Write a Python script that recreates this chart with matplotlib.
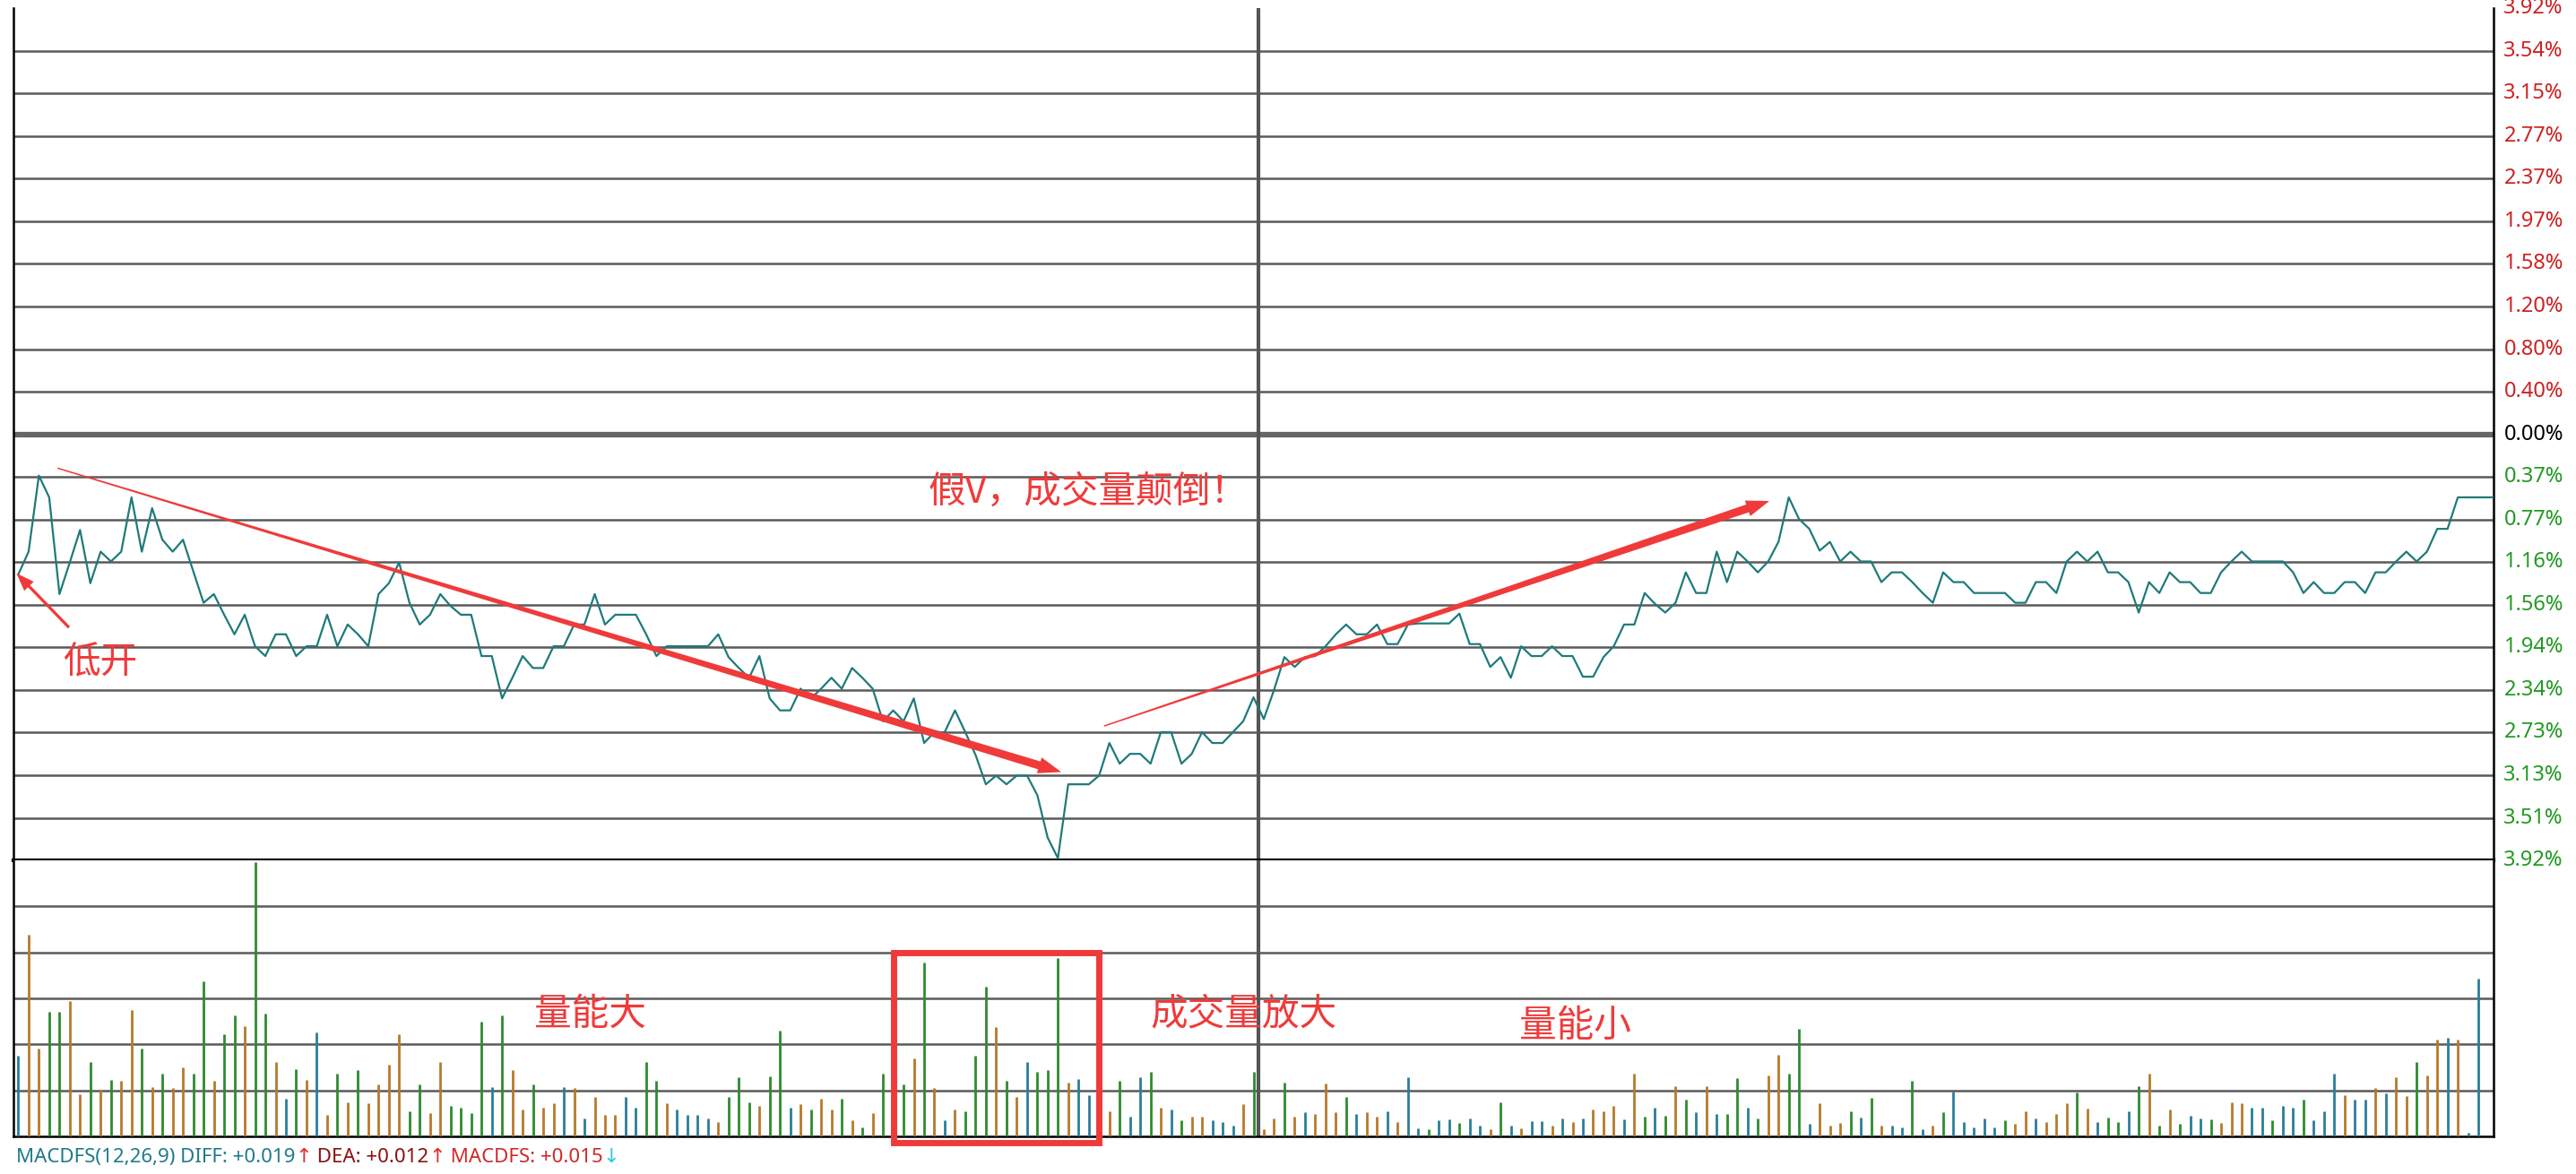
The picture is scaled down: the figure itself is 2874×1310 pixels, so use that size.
import numpy as np
import matplotlib
matplotlib.use("Agg")
import matplotlib.pyplot as plt
from matplotlib.patches import Polygon, Rectangle

plt.rcParams['font.family'] = ['Noto Sans CJK SC', 'DejaVu Sans']

# ---- data ----
price_am = [-1.29,-1.08,-0.38,-0.58,-1.47,-1.18,-0.88,-1.37,-1.08,-1.17,-1.08,-0.58,-1.08,-0.68,-0.97,-1.08,-0.97,-1.26,-1.55,-1.47,
            -1.66,-1.84,-1.66,-1.95,-2.04,-1.84,-1.84,-2.04,-1.95,-1.95,-1.66,-1.95,-1.75,-1.84,-1.95,-1.47,-1.37,-1.18,-1.55,-1.75,
            -1.66,-1.47,-1.58,-1.66,-1.66,-2.04,-2.04,-2.43,-2.24,-2.04,-2.15,-2.15,-1.95,-1.95,-1.75,-1.75,-1.47,-1.75,-1.66,-1.66,
            -1.66,-1.84,-2.04,-1.95,-1.95,-1.95,-1.95,-1.95,-1.84,-2.05,-2.15,-2.24,-2.04,-2.43,-2.54,-2.54,-2.34,-2.43,-2.34,-2.24,
            -2.34,-2.15,-2.24,-2.34,-2.64,-2.54,-2.64,-2.43,-2.84,-2.74,-2.74,-2.54,-2.74,-2.95,-3.22,-3.14,-3.22,-3.14,-3.14,-3.32,
            -3.71,-3.90,-3.22,-3.22,-3.22,-3.14,-2.84,-3.03,-2.94,-2.94,-3.03,-2.74,-2.74,-3.03,-2.94,-2.74,-2.84,-2.84,-2.74,-2.64]
price_pm = [-2.42,-2.62,-2.35,-2.05,-2.14,-2.05,-2.04,-1.95,-1.84,-1.75,-1.84,-1.84,-1.75,-1.93,-1.93,-1.75,-1.74,-1.74,-1.74,-1.74,
            -1.65,-1.93,-1.93,-2.14,-2.05,-2.24,-1.95,-2.04,-2.04,-1.95,-2.04,-2.04,-2.23,-2.23,-2.05,-1.95,-1.75,-1.75,-1.46,-1.56,
            -1.64,-1.55,-1.27,-1.46,-1.46,-1.08,-1.36,-1.08,-1.17,-1.27,-1.17,-0.99,-0.58,-0.78,-0.87,-1.07,-0.99,-1.17,-1.08,-1.17,
            -1.17,-1.36,-1.27,-1.27,-1.36,-1.46,-1.55,-1.27,-1.36,-1.36,-1.46,-1.46,-1.46,-1.46,-1.55,-1.55,-1.36,-1.36,-1.46,-1.17,
            -1.08,-1.17,-1.08,-1.27,-1.27,-1.36,-1.64,-1.36,-1.46,-1.27,-1.36,-1.36,-1.46,-1.46,-1.27,-1.17,-1.08,-1.17,-1.17,-1.17,
            -1.17,-1.27,-1.46,-1.36,-1.46,-1.46,-1.36,-1.36,-1.46,-1.27,-1.27,-1.17,-1.08,-1.17,-1.08,-0.87,-0.87,-0.58,-0.58,-0.58,
            -0.58,-0.58]

vol_am = [1.75,4.38,1.90,2.71,2.71,2.94,0.92,1.62,1.01,1.23, 1.20,2.74,1.90,1.07,1.36,1.05,1.50,1.36,3.37,1.20,
          2.21,2.63,2.40,5.97,2.67,1.62,0.82,1.46,1.23,2.25, 0.47,1.36,0.74,1.44,0.71,1.13,1.55,2.21,0.54,1.13,
          0.50,1.62,0.66,0.62,0.50,2.49,1.07,2.63,1.44,0.58, 1.13,0.62,0.72,1.07,1.05,0.38,0.85,0.47,0.47,0.85,
          0.62,1.62,1.20,0.72,0.58,0.47,0.47,0.38,0.31,0.85, 1.28,0.74,0.66,1.31,2.29,0.62,0.69,0.58,0.82,0.58,
          0.82,0.35,0.19,0.50,1.36,0.30,1.13,1.70,3.77,1.05, 0.35,0.58,0.54,1.75,3.25,2.37,1.20,0.85,1.62,1.40,
          1.44,3.88,1.17,1.24,0.89,0.10,0.54,1.20,0.43,1.28, 1.40,0.62,0.58,0.35,0.43,0.43,0.35,0.31,0.23,0.70]
col_am = "tbbggbbgbg" "bbgbgbbggb" "ggbggbtgbt" "bgbgbbbbgg" "bbggggtgbb" "gbbtbtbbbt" "tggbttttbg" "ggbggtbgbb" "gbgbgtgbgb" "tbgggbgbtg" "ggbttgbgtt" "gbtgbbtttb"
vol_pm = [1.40,0.16,0.39,1.17,0.43,0.52,0.48,1.14,0.52,0.85, 0.48,0.52,0.43,0.55,0.31,1.28,0.18,0.16,0.34,0.36,
          0.29,0.39,0.23,0.16,0.73,0.23,0.18,0.32,0.32,0.23, 0.39,0.31,0.39,0.59,0.55,0.66,0.36,1.37,0.43,0.63,
          0.45,1.09,0.80,0.52,1.09,0.48,0.48,1.27,0.63,0.39, 1.33,1.78,1.37,2.33,0.27,0.71,0.23,0.29,0.55,0.41,
          0.84,0.23,0.23,0.20,1.20,0.16,0.23,0.52,0.98,0.31, 0.20,0.39,0.20,0.34,0.27,0.55,0.39,0.31,0.48,0.71,
          0.95,0.61,0.31,0.41,0.31,0.55,1.09,1.37,0.23,0.59, 0.27,0.45,0.39,0.37,0.29,0.73,0.71,0.63,0.63,0.34,
          0.66,0.63,0.80,0.34,0.55,1.37,0.90,0.80,0.80,1.05, 0.93,1.28,0.87,1.62,1.33,2.10,2.15,2.10,0.07,3.43]
col_pm = "gbbgbtbbbg" "tbbtbttgtt" "gttbgtbttb" "tbtbbbtbgt" "gbgtbtggtg" "bbggtbbbgt" "gbttgtbgtt" "tttgbbtbbb" "gbtggtgbgb" "gttgbbbttg" "ttgtttbttb" "tbbgbbtbtt"

pos_labels = ["3.92%","3.54%","3.15%","2.77%","2.37%","1.97%","1.58%","1.20%","0.80%","0.40%"]
neg_labels = ["0.37%","0.77%","1.16%","1.56%","1.94%","2.34%","2.73%","3.13%","3.51%","3.92%"]

# ---- figure ----
W, H = 2874, 1310
fig = plt.figure(figsize=(W/100, H/100), dpi=100)
S = W/1568.0
def fx(x): return x/1568.0
def fy(y): return 1 - y/715.0

price = price_am + price_pm
vol = vol_am + vol_pm
cols = col_am + col_pm
cmap = {'g': '#2e8b2e', 'b': '#b57a2c', 't': '#2b7d99'}
N = 241
L, R = fx(8), fx(1518)

ax = fig.add_axes([L, fy(524), R-L, fy(5)-fy(524)])
step = 3.92/10
ax.set_ylim(-3.92, 3.92)
ax.set_xlim(-0.5, N-0.5)
for k in range(-9, 10):
    if k == 0:
        continue
    ax.axhline(k*step, color='#5a5a5a', lw=1.8, zorder=1)
ax.axhline(0, color='#666666', lw=4.5, zorder=1)
ax.plot(np.arange(len(price)), price, color='#1f7a7a', lw=1.6, zorder=3)
ax.axvline(120.5, color='#555555', lw=3, zorder=2)
ax.set_xticks([]); ax.set_yticks([])
ax.spines['top'].set_visible(False)
for s in ['left', 'right']:
    ax.spines[s].set_color('black'); ax.spines[s].set_linewidth(1.8)
ax.spines['bottom'].set_color('black'); ax.spines['bottom'].set_linewidth(3)

for i, lab in enumerate(pos_labels):
    ax.text(1.004, (10 - i) * step, lab, transform=ax.get_yaxis_transform(), va='center', ha='left', fontsize=17, color='#cc2222', family=['Noto Sans', 'DejaVu Sans'])
ax.text(1.004, 0, "0.00%", transform=ax.get_yaxis_transform(), va='center', ha='left', fontsize=17, color='black', family=['Noto Sans', 'DejaVu Sans'])
for i, lab in enumerate(neg_labels):
    ax.text(1.004, -(i + 1) * step, lab, transform=ax.get_yaxis_transform(), va='center', ha='left', fontsize=17, color='#229922', family=['Noto Sans', 'DejaVu Sans'])

# volume
av = fig.add_axes([L, fy(692), R-L, fy(524)-fy(692)])
av.set_xlim(-0.5, N-0.5)
av.set_ylim(0, 6)
for k in range(1, 6):
    av.axhline(k, color='#5a5a5a', lw=1.8, zorder=1)
av.axvline(120.5, color='#555555', lw=3, zorder=2)
av.vlines(np.arange(len(vol)), 0, vol, colors=[cmap[c] for c in cols[:len(vol)]], lw=2.0, zorder=3)
av.set_xticks([]); av.set_yticks([])
av.spines['top'].set_visible(False)
for s in ['left', 'right', 'bottom']:
    av.spines[s].set_color('black'); av.spines[s].set_linewidth(1.8)

# ---- annotations ----
RED = '#f03a3a'
def tapered(p0, p1, w0, w1, hw, hl):
    p0 = np.array(p0, float)*S; p1 = np.array(p1, float)*S
    d = p1 - p0; ln = np.hypot(*d); d = d/ln; n = np.array([-d[1], d[0]])
    w0 *= S; w1 *= S; hw *= S; hl *= S
    b = p1 - d*hl
    pts = [p0 + n*w0/2, b + n*w1/2, b + n*hw/2, p1, b - n*hw/2, b - n*w1/2, p0 - n*w0/2]
    pts = [(x/W, 1 - y/H) for x, y in pts]
    fig.add_artist(Polygon(pts, closed=True, transform=fig.transFigure, color=RED, lw=0))

tapered((35, 285), (646, 470), 0.8, 5.0, 10, 14)
tapered((672, 442), (1077, 305), 0.8, 5.0, 10, 14)
tapered((42, 382), (10, 349), 1.8, 1.8, 8, 11)

fs = 30
fig.text(fx(38), fy(404), "低开", color=RED, fontsize=fs, va='center', ha='left')
fig.text(fx(565), fy(300), "假V，成交量颠倒！", color=RED, fontsize=fs, va='center', ha='left')
fig.text(fx(325), fy(618), "量能大", color=RED, fontsize=fs, va='center', ha='left')
fig.text(fx(700), fy(618), "成交量放大", color=RED, fontsize=fs, va='center', ha='left')
fig.text(fx(925), fy(625), "量能小", color=RED, fontsize=fs, va='center', ha='left')

fig.add_artist(Rectangle((fx(544), fy(696)), fx(669)-fx(544), fy(580)-fy(696), transform=fig.transFigure,
                         fill=False, edgecolor=RED, lw=5))

parts = [("MACDFS(12,26,9) DIFF: +0.019", '#1f7a8a'), ("↑", '#e03030'), (" DEA: +0.012", '#8b1010'), ("↑", '#e03030'),
         (" MACDFS: +0.015", '#d02828'), ("↓", '#30c8e0')]
x0 = fx(10)
r = fig.canvas.get_renderer()
for t, c in parts:
    tx = fig.text(x0, fy(705), t, color=c, fontsize=16, va='center', ha='left', family=['Noto Sans', 'DejaVu Sans'])
    bb = tx.get_window_extent(renderer=r)
    x0 += bb.width / W

fig.savefig("out.png", dpi=100, facecolor='white')
